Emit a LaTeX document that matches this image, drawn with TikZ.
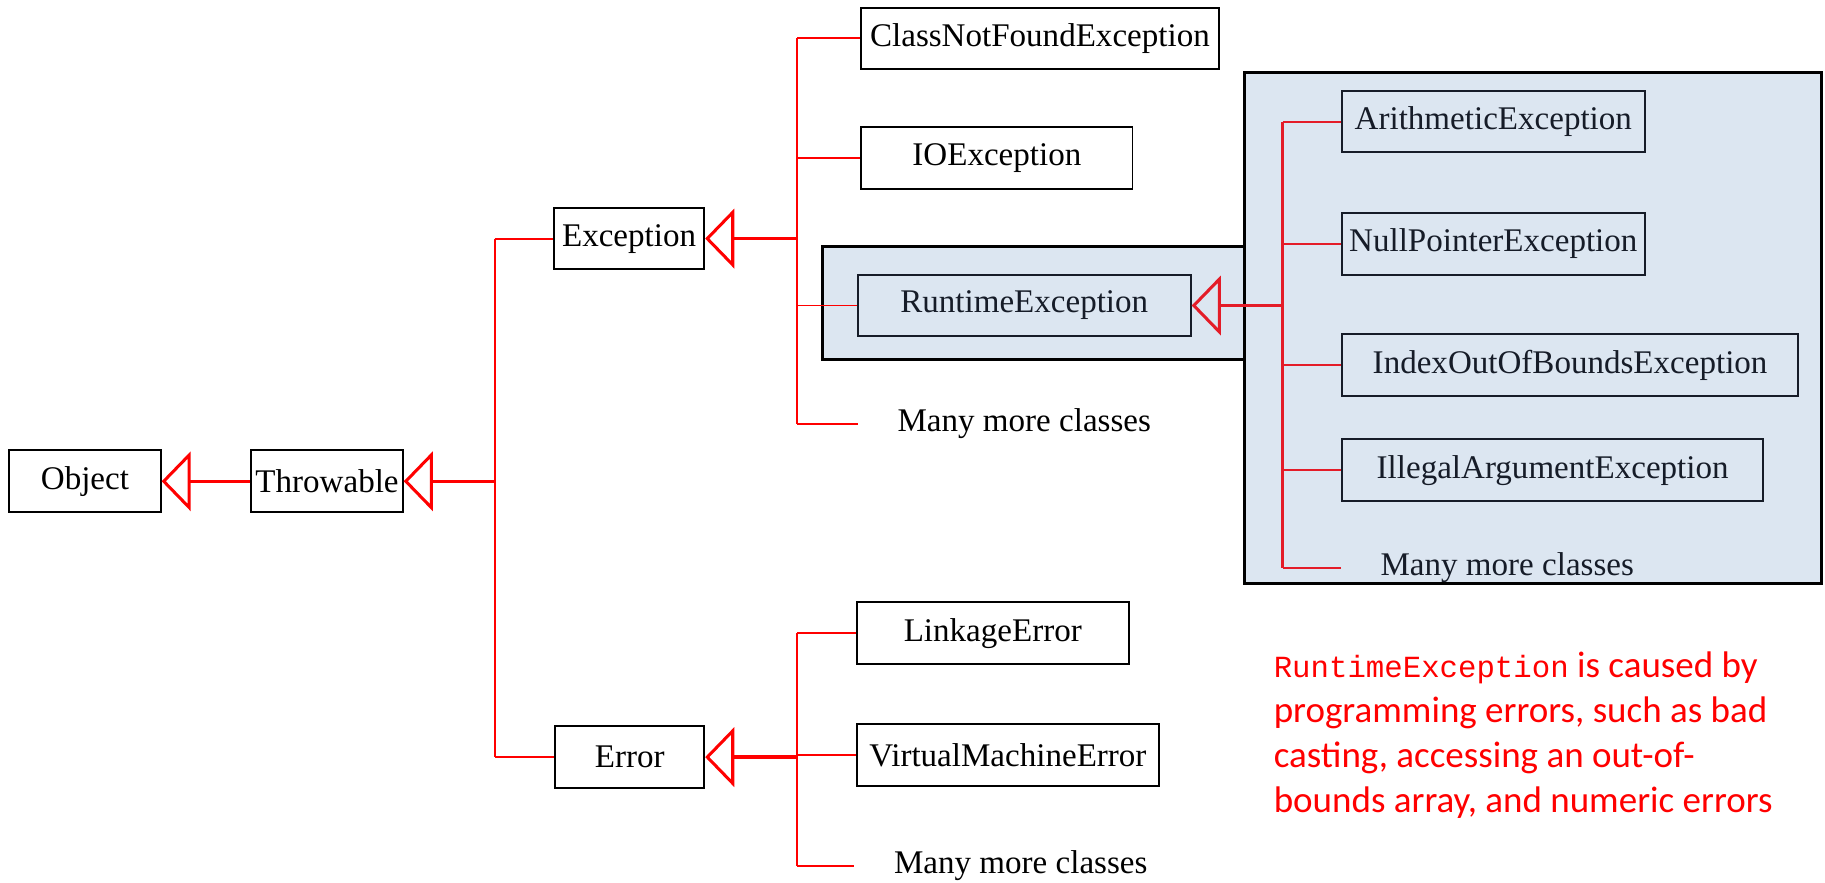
\documentclass[tikz,border=0pt]{standalone}
\usepackage{fontspec}
\setmainfont{Liberation Serif}
\newfontfamily\notefont{Carlito}
\newfontfamily\codefont[Scale=0.83]{Liberation Mono}
\usetikzlibrary{arrows.meta}
\definecolor{panelblue}{RGB}{220,230,241}
\definecolor{panelred}{RGB}{228,28,40}
\definecolor{panelink}{RGB}{22,28,40}
\tikzset{
	cls/.style={draw, line width=0.85pt, minimum height=26.5pt, inner sep=0pt, font=\fontsize{14.2}{17}\selectfont},
	inpanel/.style={cls, fill=panelblue, draw=panelink, text=panelink},
	more/.style={inner sep=0pt, font=\fontsize{14.2}{17}\selectfont},
	trunk/.style={red, line width=1pt},
	branch/.style={red, line width=0.8pt},
	inherit/.style={red, line width=1.5pt, -{Triangle[open, length=12.5pt, width=25.5pt, line width=1.3pt]}},
	panel/.style={draw, fill=panelblue, line width=1.3pt}
}
\begin{document}
\begin{tikzpicture}[x=0.5pt, y=-0.5pt]
		\useasboundingbox (0,0) rectangle (1568,758.6);
		% shaded unchecked part
		\draw[panel] (707,212) rectangle (1069,309);
		\draw[panel] (1069,62) rectangle (1565,501);
		% roots
		\node[cls, minimum width=65pt] (object) at (73,413.5) {Object};
		\node[cls, minimum width=65pt] (throwable) at (281,413.5) {Throwable};
		\node[cls, minimum width=64.5pt] (exception) at (540.5,205) {Exception};
		\node[cls, minimum width=64pt] (error) at (541,650.5) {Error};
		% subclasses of Exception
		\node[cls, minimum width=153.5pt] (classnotfound) at (893.5,33) {ClassNotFoundException};
		\node[cls, minimum width=116.5pt] (ioexc) at (856.5,136) {IOException};
		\node[inpanel, minimum width=143pt] (runtime) at (880,262.5) {RuntimeException};
		\node[more] (moreexc) at (880,364) {Many more classes};
		% subclasses of RuntimeException
		\node[inpanel, minimum width=130pt] (arith) at (1283,104.5) {ArithmeticException};
		\node[inpanel, minimum width=130pt] (nullptr) at (1283,209.5) {NullPointerException};
		\node[inpanel, minimum width=196pt] (indexoob) at (1349,313.5) {IndexOutOfBoundsException};
		\node[inpanel, minimum width=181pt] (illegalarg) at (1334,404) {IllegalArgumentException};
		\node[more, text=panelink] (moreruntime) at (1295,488) {Many more classes};
		% subclasses of Error
		\node[cls, minimum width=117pt] (linkage) at (853,544) {LinkageError};
		\node[cls, minimum width=130pt] (vmerror) at (866,648.5) {VirtualMachineError};
		\node[more] (moreerror) at (877,744) {Many more classes};
		% trunks
		\coordinate (ttrunk) at (425,413.5);
		\coordinate (etrunk) at (685,205);
		\coordinate (rtrunk) at (1102,262.5);
		\coordinate (errtrunk) at (685,650.5);
		% Throwable tree
		\draw[trunk] (ttrunk |- exception.west) -- (ttrunk |- error.west);
		\foreach \n in {exception, error}
		{
			\draw[branch] (ttrunk |- \n.west) -- (\n.west);
		}
		\draw[inherit] (ttrunk) -- (throwable.east);
		\draw[inherit] (throwable.west) -- (object.east);
		% Exception tree
		\draw[trunk] (etrunk |- classnotfound.west) -- (etrunk |- moreexc.west);
		\foreach \n in {classnotfound, ioexc, runtime}
		{
			\draw[branch] (etrunk |- \n.west) -- (\n.west);
		}
		\draw[branch, shorten >=17pt] (etrunk |- moreexc.west) -- (moreexc.west);
		\draw[inherit] (etrunk) -- (exception.east);
		% RuntimeException tree
		\draw[trunk, panelred] (rtrunk |- arith.west) -- (rtrunk |- moreruntime.west);
		\foreach \n in {arith, nullptr, indexoob, illegalarg}
		{
			\draw[branch, panelred] (rtrunk |- \n.west) -- (\n.west);
		}
		\draw[branch, panelred, shorten >=17pt] (rtrunk |- moreruntime.west) -- (moreruntime.west);
		\draw[inherit, panelred] (rtrunk) -- (runtime.east);
		% Error tree
		\draw[trunk] (errtrunk |- linkage.west) -- (errtrunk |- moreerror.west);
		\foreach \n in {linkage, vmerror}
		{
			\draw[branch] (errtrunk |- \n.west) -- (\n.west);
		}
		\draw[branch, shorten >=17pt] (errtrunk |- moreerror.west) -- (moreerror.west);
		\draw[inherit] (errtrunk) -- (error.east);
		% note
		\node[anchor=north west, inner sep=0pt, align=left, text=red, font=\notefont\fontsize{15.9}{19.3}\selectfont] (note) at (1094,560) {{\codefont RuntimeException} is caused by\\programming errors, such as bad\\casting, accessing an out-of-\\bounds array, and numeric errors};
	\end{tikzpicture}
\end{document}
